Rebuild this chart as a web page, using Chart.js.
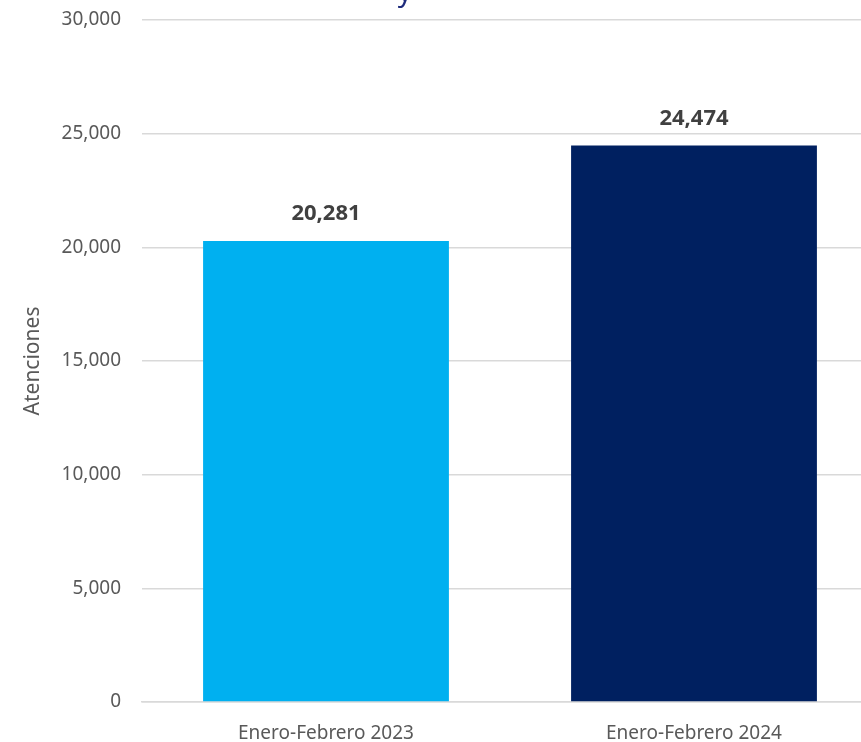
<!DOCTYPE html>
<html>
<head>
<meta charset="utf-8">
<script src="https://cdn.jsdelivr.net/npm/chart.js@4.4.0/dist/chart.umd.min.js"></script>
<style>
  html, body { margin: 0; padding: 0; background: #fff; overflow: hidden; }
  #wrap { width: 861px; height: 742px; overflow: hidden; }
</style>
</head>
<body>
<div id="wrap"><canvas id="grafico" width="878" height="742"></canvas></div>
<script>
// Datos del gráfico
const periodos = ['Enero-Febrero 2023', 'Enero-Febrero 2024'];
const atenciones = [20281, 24474];
const colores = ['#00B0F0', '#002060'];
const tituloEje = 'Atenciones';

const fuente = "'Noto Sans', 'Open Sans', sans-serif";

// Etiquetas encima de cada barra
const etiquetas = {
    id: 'etiquetas',
    afterDatasetsDraw(chart) {
        const ctx = chart.ctx;
        const meta = chart.getDatasetMeta(0);
        ctx.save();
        ctx.font = "bold 22px " + fuente;
        ctx.fillStyle = '#404040';
        ctx.textAlign = 'center';
        ctx.textBaseline = 'middle';
        meta.data.forEach((barra, i) => {
            ctx.fillText(atenciones[i].toLocaleString('en-US'), barra.x, barra.y - 27);
        });
        // resto del título cortado arriba
        ctx.font = "28px " + fuente;
        ctx.fillStyle = '#1F2C7C';
        ctx.textAlign = 'center';
        ctx.textBaseline = 'alphabetic';
        ctx.fillText('y', 405, 1);
        ctx.restore();
    }
};

new Chart(document.getElementById('grafico').getContext('2d'), {
    type: 'bar',
    data: {
        labels: periodos,
        datasets: [{
            data: atenciones,
            backgroundColor: colores,
            categoryPercentage: 1,
            barPercentage: 0.668
        }]
    },
    options: {
        responsive: false,
        animation: false,
        layout: { padding: { top: 20, right: 0, left: 0, bottom: 0 } },
        plugins: {
            legend: { display: false },
            tooltip: { enabled: false }
        },
        scales: {
            x: {
                grid: { display: false, drawTicks: false },
                border: { color: '#D9D9D9', width: 1.5 },
                ticks: {
                    color: '#595959',
                    font: { family: fuente, size: 19 },
                    padding: 20
                },
                afterFit(scale) { scale.height = 40; scale.paddingLeft = 0; scale.paddingRight = 0; }
            },
            y: {
                min: 0,
                max: 30000,
                grid: { color: '#D9D9D9', lineWidth: 1.5, drawTicks: false },
                border: { display: false },
                ticks: {
                    stepSize: 5000,
                    color: '#595959',
                    font: { family: fuente, size: 19 },
                    padding: 21,
                    callback: v => v.toLocaleString('en-US')
                },
                title: {
                    display: true,
                    text: tituloEje,
                    color: '#595959',
                    font: { family: fuente, size: 21 },
                    padding: { top: 20, bottom: 0 }
                },
                afterFit(scale) { scale.width = 142; scale.paddingTop = 0; scale.paddingBottom = 0; }
            }
        }
    },
    plugins: [etiquetas]
});
</script>
</body>
</html>
